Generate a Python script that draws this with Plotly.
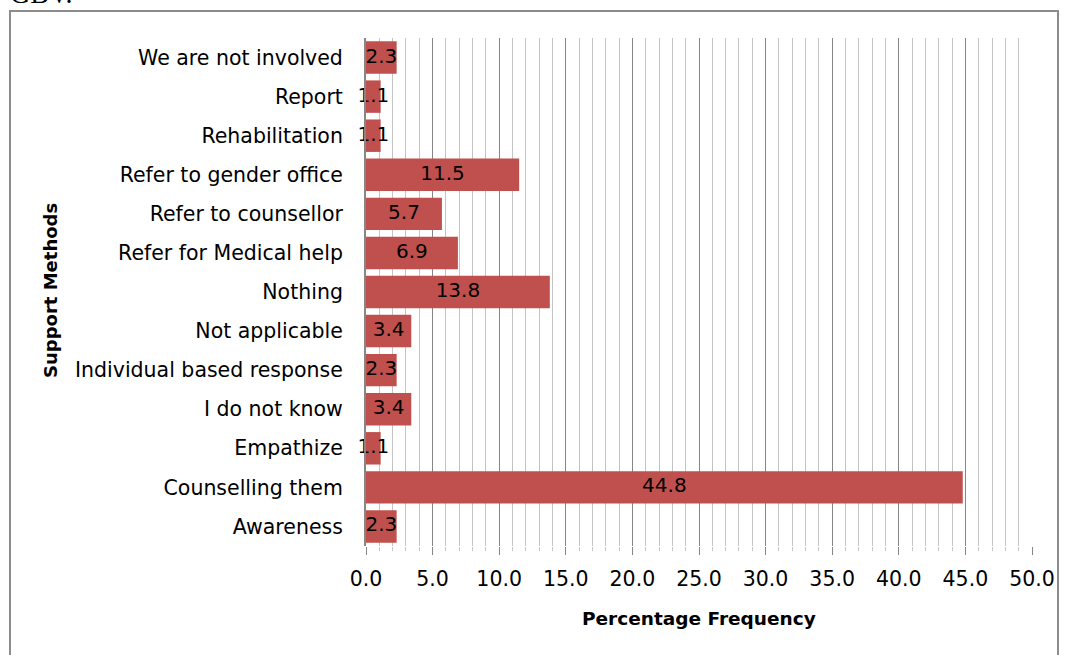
import plotly.graph_objects as go

# Support methods (bottom to top) and their percentage frequency
methods = [
    "Awareness",
    "Counselling them",
    "Empathize",
    "I do not know",
    "Individual based response",
    "Not applicable",
    "Nothing",
    "Refer for Medical help",
    "Refer to counsellor",
    "Refer to gender office",
    "Rehabilitation",
    "Report",
    "We are not involved",
]
percent = [2.3, 44.8, 1.1, 3.4, 2.3, 3.4, 13.8, 6.9, 5.7, 11.5, 1.1, 1.1, 2.3]

BAR = "#C0504D"
FONT = "DejaVu Sans"

fig = go.Figure()
fig.add_trace(go.Bar(
    x=percent, y=methods, orientation="h",
    marker=dict(color=BAR, line=dict(width=0)),
    hoverinfo="skip",
))
# value labels centred on each bar
fig.add_trace(go.Scatter(
    x=[v / 2 for v in percent], y=methods, mode="text",
    text=[f"{v:.1f}" for v in percent],
    textfont=dict(family=FONT, size=20, color="#000000"),
    textposition="middle center",
    cliponaxis=False, hoverinfo="skip", showlegend=False,
))

W, H = 1068, 655
L, R, T, B = 366, 36, 38, 109
pw, ph = W - L - R, H - T - B


def px_x(p):
    return (p - L) / pw


def px_y(p):
    return (H - B - p) / ph


fig.update_layout(
    width=W, height=H,
    margin=dict(l=L, r=R, t=T, b=B),
    paper_bgcolor="white", plot_bgcolor="white",
    showlegend=False, bargap=0.17,
    font=dict(family=FONT, size=20, color="#000000"),
    xaxis=dict(
        range=[0, 50], dtick=5, tickformat=".1f", automargin=False,
        showgrid=True, gridcolor="#868686", gridwidth=1,
        ticks="outside", ticklen=8, tickcolor="#868686",
        ticklabelstandoff=6,
        minor=dict(dtick=1, showgrid=True, gridcolor="#C4C4C4", gridwidth=1,
                   ticks="outside", ticklen=4, tickcolor="#C4C4C4"),
        zeroline=False, showline=False,
        tickfont=dict(family=FONT, size=20.5),
        title=dict(text=""),
    ),
    yaxis=dict(
        categoryorder="array", categoryarray=methods, automargin=False,
        range=[-0.5, len(methods) - 0.5], autorange=False,
        showgrid=False, showline=True, linecolor="#868686", linewidth=2,
        ticks="", ticklabelstandoff=17,
        tickfont=dict(family=FONT, size=20.5),
        title=dict(text=""),
    ),
    shapes=[dict(
        type="rect", xref="paper", yref="paper",
        x0=px_x(10), x1=px_x(1058), y0=px_y(670), y1=px_y(11),
        line=dict(color="#8C8C8C", width=2), fillcolor="rgba(0,0,0,0)",
        layer="below",
    )],
    annotations=[
        dict(text="GBV.", xref="paper", yref="paper",
             x=px_x(8), y=px_y(11), xanchor="left", yanchor="bottom",
             showarrow=False,
             font=dict(family="Liberation Serif", size=28, color="#000000")),
        dict(text="<b>Percentage Frequency</b>", xref="paper", yref="paper",
             x=px_x(699), y=px_y(618), xanchor="center", yanchor="middle",
             showarrow=False, font=dict(family=FONT, size=18.5)),
        dict(text="<b>Support Methods</b>", xref="paper", yref="paper",
             x=px_x(50), y=px_y(291), xanchor="center", yanchor="middle",
             textangle=-90, showarrow=False, font=dict(family=FONT, size=18)),
    ],
)

fig.write_html("out.html")
